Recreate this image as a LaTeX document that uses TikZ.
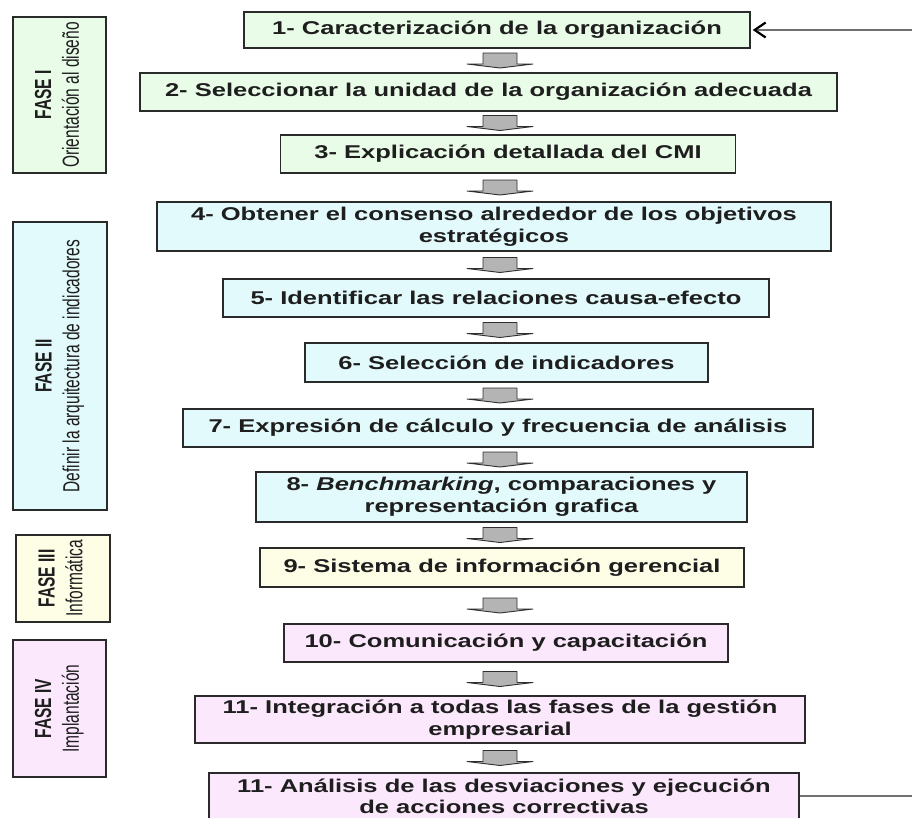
\documentclass[tikz,border=0pt]{standalone}
\usepackage{fontspec}
\setmainfont{Liberation Sans}
\newfontfamily\cajafont[FakeStretch=1.38]{Liberation Sans}
\usetikzlibrary{calc,arrows.meta}

\definecolor{verde}{HTML}{E9FCE8}
\definecolor{cian}{HTML}{E2FAFC}
\definecolor{amarillo}{HTML}{FEFDE6}
\definecolor{rosa}{HTML}{FCE8FC}
\definecolor{borde}{HTML}{2A2A2A}
\definecolor{texto}{HTML}{1E1E1E}
\definecolor{gris}{HTML}{B4B4B4}
\definecolor{grisosc}{HTML}{2E2E2E}
\definecolor{linea}{HTML}{707070}

\tikzset{
  paso/.style={draw=borde, line width=1.4pt, inner sep=0pt, align=center,
    text=texto, font=\cajafont\bfseries\fontsize{18.5}{22}\selectfont},
  fase/.style={draw=borde, line width=1.4pt, inner sep=0pt, text=texto},
  retro/.style={draw=linea, line width=1.2pt},
  bloque/.pic={
    \filldraw[fill=gris, draw=grisosc, line width=0.9pt, line join=round]
      (-17,-7.5) -- (17,-7.5) -- (17,3.5) -- (33,3.5) -- (0,7.5)
      -- (-33,3.5) -- (-17,3.5) -- cycle;
  }
}

% vertical phase label, narrow letters
\newcommand\etiquetafase[2]{%
  \scalebox{1.5}[1]{\rotatebox{90}{\fontsize{15.5}{18.5}\selectfont
    \begin{tabular}{@{}c@{}}\bfseries #1\\ #2\end{tabular}}}}

% block arrow between two consecutive steps
\newcommand\flechabloque[2]{%
  \path ($(#1.south -| eje)!.5!(#2.north -| eje)$) pic {bloque};}

\begin{document}
\begin{tikzpicture}[x=1pt,y=-1pt]
  \useasboundingbox (0,0) rectangle (912,817);
  \fill[white] (0,0) rectangle (912,817);
  \clip (0,0) rectangle (912,817);
  \coordinate (eje) at (500,0);
  \coordinate (derecha) at (912,0);

  % phases
  \node[fase, fill=verde, minimum width=93, minimum height=156] (f1) at (59.5,95)
    {\etiquetafase{FASE I}{Orientación al diseño}};
  \node[fase, fill=cian, minimum width=94, minimum height=288] (f2) at (60,366)
    {\etiquetafase{FASE II}{Definir la arquitectura de indicadores}};
  \node[fase, fill=amarillo, minimum width=94, minimum height=87] (f3) at (63,578.5)
    {\etiquetafase{FASE III}{Informática}};
  \node[fase, fill=rosa, minimum width=93, minimum height=137] (f4) at (59.5,708.5)
    {\etiquetafase{FASE IV}{Implantación}};

  % steps
  \node[paso, fill=verde, minimum width=506, minimum height=36] (n1) at (497,30)
    {1- Caracterización de la organización};
  \node[paso, fill=verde, minimum width=697, minimum height=38] (n2) at (488.5,92)
    {2- Seleccionar la unidad de la organización adecuada};
  \node[paso, fill=verde, minimum width=455, minimum height=38] (n3) at (508,154)
    {3- Explicación detallada del CMI};
  \node[paso, fill=cian, minimum width=674, minimum height=49] (n4) at (494,226.5)
    {4- Obtener el consenso alrededor de los objetivos\\estratégicos};
  \node[paso, fill=cian, minimum width=546, minimum height=38] (n5) at (496,298)
    {5- Identificar las relaciones causa-efecto};
  \node[paso, fill=cian, minimum width=403, minimum height=39] (n6) at (506.5,362.5)
    {6- Selección de indicadores};
  \node[paso, fill=cian, minimum width=630, minimum height=38] (n7) at (498,428)
    {7- Expresión de cálculo y frecuencia de análisis};
  \node[paso, fill=cian, minimum width=491, minimum height=50] (n8) at (501.5,497)
    {8- \textit{Benchmarking}, comparaciones y\\representación grafica};
  \node[paso, fill=amarillo, minimum width=484, minimum height=39] (n9) at (502,567.5)
    {9- Sistema de información gerencial};
  \node[paso, fill=rosa, minimum width=444, minimum height=38] (n10) at (506,643)
    {10- Comunicación y capacitación};
  \node[paso, fill=rosa, minimum width=610, minimum height=47] (n11) at (500,719.5)
    {11- Integración a todas las fases de la gestión\\empresarial};
  \node[paso, fill=rosa, minimum width=590, minimum height=46,
        font=\cajafont\bfseries\fontsize{18.5}{21}\selectfont] (n12) at (504,796)
    {11- Análisis de las desviaciones y ejecución\\de acciones correctivas};

  % block arrows
  \foreach \a/\b in {n1/n2,n2/n3,n3/n4,n4/n5,n5/n6,n6/n7,n7/n8,n8/n9,n9/n10,n10/n11,n11/n12}
    {\flechabloque{\a}{\b}}

  % feedback from the last step back to the first
  \draw[retro] (n12.east) -- (n12.east -| derecha);
  \draw[retro, -{Straight Barb[length=11pt,width=15pt,line width=2.2pt,color=black]}]
    (derecha |- n1.east) -- ([xshift=2pt]n1.east);
\end{tikzpicture}
\end{document}
